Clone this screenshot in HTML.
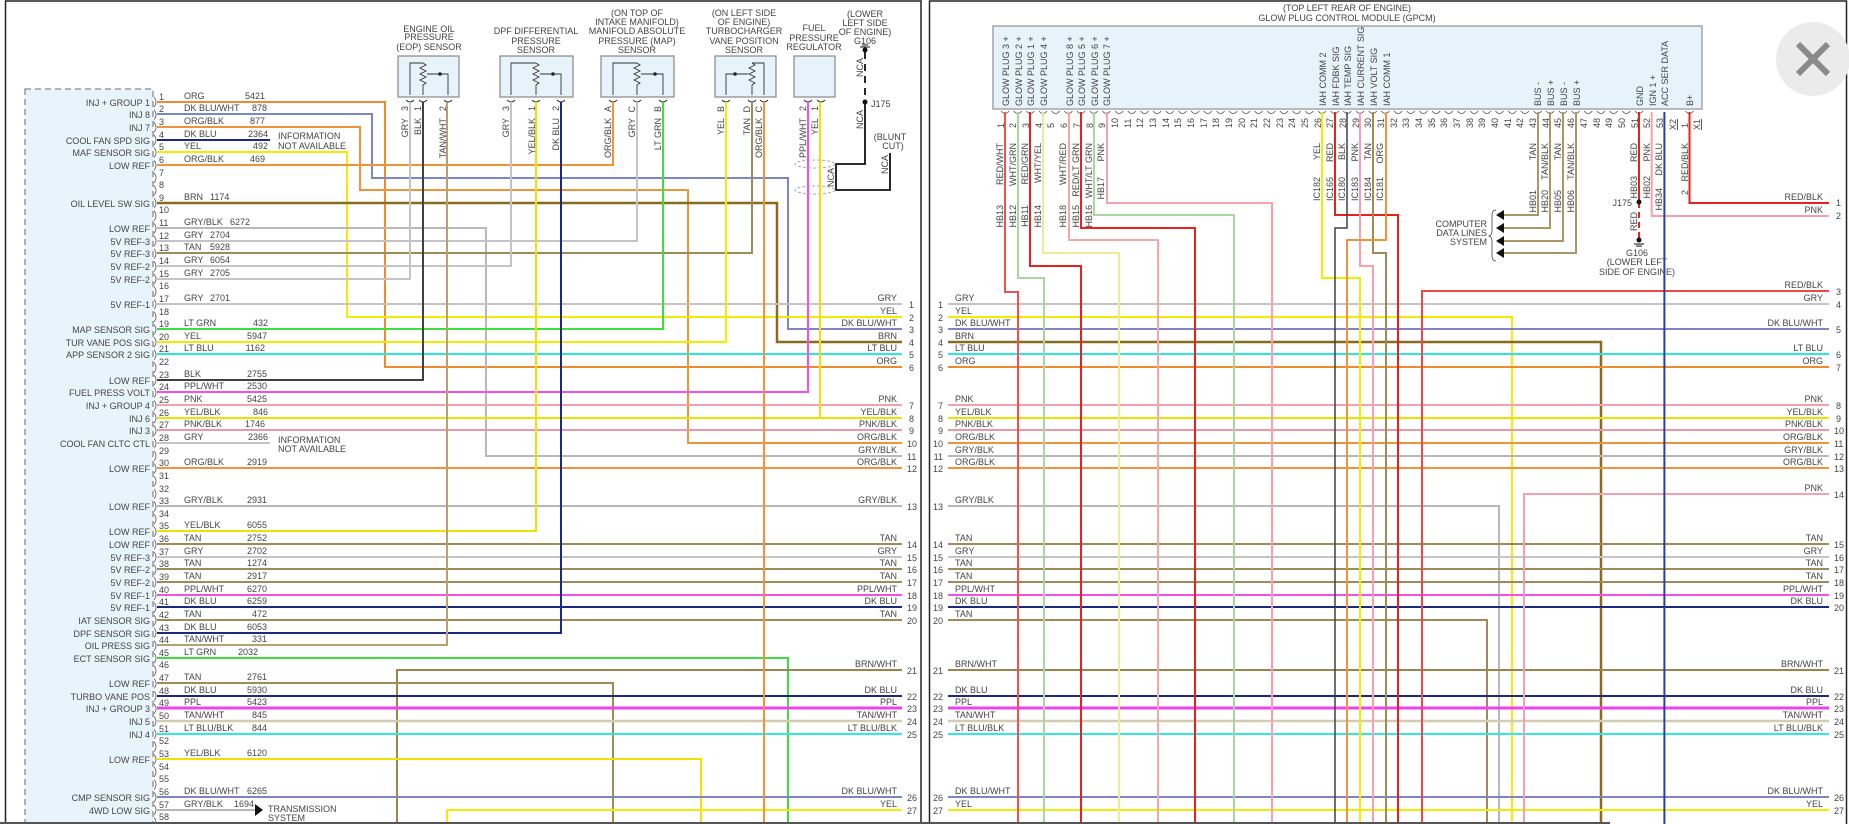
<!DOCTYPE html>
<html><head><meta charset="utf-8">
<style>
html,body{margin:0;padding:0;background:#fff;}
svg{display:block;}
text{font-family:"Liberation Sans",Arial,sans-serif;font-size:9px;fill:#444;}
.t{font-size:9.5px;}
.e{text-anchor:end;}
.m{text-anchor:middle;}
.w{fill:none;stroke-width:2;}
</style></head><body>
<svg width="1849" height="824" viewBox="0 0 1849 824" xmlns="http://www.w3.org/2000/svg">
<rect x="0" y="0" width="1849" height="824" fill="#fff"/>
<!-- panel borders -->
<rect x="5.5" y="1" width="915.5" height="830" fill="none" stroke="#222" stroke-width="1.5"/>
<rect x="929.5" y="1" width="917" height="830" fill="none" stroke="#222" stroke-width="1.5"/>
<!-- close icon -->
<circle cx="1813" cy="59" r="37" fill="#ebebeb"/>
<path d="M1798,44 L1828,74 M1828,44 L1798,74" stroke="#8a8a8a" stroke-width="6"/>

<!-- ECM dashed box -->
<rect x="25" y="89" width="128" height="745" fill="#e8f4fc" stroke="#888" stroke-width="1.3" stroke-dasharray="6,4"/>
<path d="M154,97 q4,5 0,10m0,2.64 q4,5 0,10m0,2.64 q4,5 0,10m0,2.64 q4,5 0,10m0,2.64 q4,5 0,10m0,2.64 q4,5 0,10m0,2.64 q4,5 0,10m0,2.64 q4,5 0,10m0,2.64 q4,5 0,10m0,2.64 q4,5 0,10m0,2.64 q4,5 0,10m0,2.64 q4,5 0,10m0,2.64 q4,5 0,10m0,2.64 q4,5 0,10m0,2.64 q4,5 0,10m0,2.64 q4,5 0,10m0,2.64 q4,5 0,10m0,2.64 q4,5 0,10m0,2.64 q4,5 0,10m0,2.64 q4,5 0,10m0,2.64 q4,5 0,10m0,2.64 q4,5 0,10m0,2.64 q4,5 0,10m0,2.64 q4,5 0,10m0,2.64 q4,5 0,10m0,2.64 q4,5 0,10m0,2.64 q4,5 0,10m0,2.64 q4,5 0,10m0,2.64 q4,5 0,10m0,2.64 q4,5 0,10m0,2.64 q4,5 0,10m0,2.64 q4,5 0,10m0,2.64 q4,5 0,10m0,2.64 q4,5 0,10m0,2.64 q4,5 0,10m0,2.64 q4,5 0,10m0,2.64 q4,5 0,10m0,2.64 q4,5 0,10m0,2.64 q4,5 0,10m0,2.64 q4,5 0,10m0,2.64 q4,5 0,10m0,2.64 q4,5 0,10m0,2.64 q4,5 0,10m0,2.64 q4,5 0,10m0,2.64 q4,5 0,10m0,2.64 q4,5 0,10m0,2.64 q4,5 0,10m0,2.64 q4,5 0,10m0,2.64 q4,5 0,10m0,2.64 q4,5 0,10m0,2.64 q4,5 0,10m0,2.64 q4,5 0,10m0,2.64 q4,5 0,10m0,2.64 q4,5 0,10m0,2.64 q4,5 0,10m0,2.64 q4,5 0,10m0,2.64 q4,5 0,10m0,2.64 q4,5 0,10" fill="none" stroke="#555" stroke-width="0.8"/>

<!-- sensor boxes -->
<g fill="#e6f3fb" stroke="#888" stroke-width="1.2">
<rect x="398" y="56" width="61" height="41"/>
<rect x="500" y="56" width="73" height="41"/>
<rect x="601" y="56" width="73" height="41"/>
<rect x="715" y="56" width="61" height="41"/>
<rect x="794" y="56" width="41" height="41"/>
</g>
<g fill="none" stroke="#333" stroke-width="0.9">
<path d="M410,95V63H423M423,63l3,2-6,3 6,3-6,3 6,3-6,3 6,3-3,2V95M448,95V74H427"/>
<path d="M511,95V63H536M536,63l3,2-6,3 6,3-6,3 6,3-6,3 6,3-3,2V95M561,95V74H540"/>
<path d="M613,95V63H637M637,63l3,2-6,3 6,3-6,3 6,3-6,3 6,3-3,2V95M663,95V74H641"/>
<path d="M764,95V63H752M752,63l3,2-6,3 6,3-6,3 6,3-6,3 6,3-3,2V95M726,95V74H748"/>
<path d="M406,156" />
<path d="M406,100q4,4 8,0M419,100q4,4 8,0M444,100q4,4 8,0M507,100q4,4 8,0M532,100q4,4 8,0M557,100q4,4 8,0M609,100q4,4 8,0M633,100q4,4 8,0M659,100q4,4 8,0M722,100q4,4 8,0M748,100q4,4 8,0M760,100q4,4 8,0M804,100q4,4 8,0M817,100q4,4 8,0"/>
</g>
<g fill="#222"><circle cx="440" cy="74" r="1.8"/><circle cx="553" cy="74" r="1.8"/><circle cx="655" cy="74" r="1.8"/><circle cx="735" cy="74" r="1.8"/></g>

<!-- sensor titles -->
<g class="m">
<text x="429" y="32">ENGINE OIL</text><text x="429" y="40">PRESSURE</text><text x="429" y="50">(EOP) SENSOR</text>
<text x="536" y="34">DPF DIFFERENTIAL</text><text x="536" y="44">PRESSURE</text><text x="536" y="53">SENSOR</text>
<text x="637" y="16">(ON TOP OF</text><text x="637" y="25">INTAKE MANIFOLD)</text><text x="637" y="34">MANIFOLD ABSOLUTE</text><text x="637" y="44">PRESSURE (MAP)</text><text x="637" y="53">SENSOR</text>
<text x="744" y="16">(ON LEFT SIDE</text><text x="744" y="25">OF ENGINE)</text><text x="744" y="34">TURBOCHARGER</text><text x="744" y="44">VANE POSITION</text><text x="744" y="53">SENSOR</text>
<text x="814" y="31">FUEL</text><text x="814" y="41">PRESSURE</text><text x="814" y="50">REGULATOR</text>
<text x="865" y="17">(LOWER</text><text x="865" y="26">LEFT SIDE</text><text x="865" y="35">OF ENGINE)</text><text x="865" y="44">G106</text>
<text x="890" y="140">(BLUNT</text><text x="893" y="149">CUT)</text>
</g>
<!-- sensor pin labels (rotated) -->
<g class="e">
<text transform="translate(408,106) rotate(-90)">3</text><text transform="translate(408,118) rotate(-90)">GRY</text>
<text transform="translate(421,106) rotate(-90)">1</text><text transform="translate(421,118) rotate(-90)">BLK</text>
<text transform="translate(446,106) rotate(-90)">2</text><text transform="translate(446,118) rotate(-90)">TAN/WHT</text>
<text transform="translate(509,106) rotate(-90)">3</text><text transform="translate(509,118) rotate(-90)">GRY</text>
<text transform="translate(535,106) rotate(-90)">1</text><text transform="translate(535,118) rotate(-90)">YEL/BLK</text>
<text transform="translate(559,106) rotate(-90)">2</text><text transform="translate(559,118) rotate(-90)">DK BLU</text>
<text transform="translate(611,106) rotate(-90)">A</text><text transform="translate(611,118) rotate(-90)">ORG/BLK</text>
<text transform="translate(635,106) rotate(-90)">C</text><text transform="translate(635,118) rotate(-90)">GRY</text>
<text transform="translate(661,106) rotate(-90)">B</text><text transform="translate(661,118) rotate(-90)">LT GRN</text>
<text transform="translate(724,106) rotate(-90)">B</text><text transform="translate(724,118) rotate(-90)">YEL</text>
<text transform="translate(750,106) rotate(-90)">D</text><text transform="translate(750,118) rotate(-90)">TAN</text>
<text transform="translate(762,106) rotate(-90)">C</text><text transform="translate(762,118) rotate(-90)">ORG/BLK</text>
<text transform="translate(806,106) rotate(-90)">2</text><text transform="translate(806,118) rotate(-90)">PPL/WHT</text>
<text transform="translate(818,106) rotate(-90)">1</text><text transform="translate(818,118) rotate(-90)">YEL</text>
<text transform="translate(863,58) rotate(-90)">NCA</text>
<text transform="translate(863,110) rotate(-90)">NCA</text>
<text transform="translate(888,155) rotate(-90)">NCA</text>
<text transform="translate(834,168) rotate(-90)">NCA</text>
</g>
<text x="871" y="107">J175</text>

<!-- ground / splice -->
<path d="M865,52V102" stroke="#111" stroke-width="1.8" stroke-dasharray="7,5" fill="none"/>
<path d="M865,102V164H836V190H890V153" stroke="#111" stroke-width="1.8" fill="none"/>
<circle cx="865" cy="50" r="2.5" fill="#111"/><path d="M860,47h10M862,45h6" stroke="#111"/>
<circle cx="865" cy="102" r="2.5" fill="#111"/>
<g fill="none" stroke="#aaa" stroke-dasharray="3,2"><ellipse cx="815" cy="164" rx="20" ry="4"/><ellipse cx="815" cy="190" rx="20" ry="4"/></g>

<!-- LEFT WIRES -->
<g class="w">
<path stroke="#f08a2a" d="M157,102H385V367H902"/>
<path stroke="#7b86c2" d="M157,114H372V178H788V329H902"/>
<path stroke="#f0943a" d="M157,127H360V190H688V443H902"/>
<path stroke="#1a2a80" d="M157,140H270"/>
<path stroke="#f4ec00" d="M157,152H347V317H902"/>
<path stroke="#f0943a" d="M157,165H613V102"/>
<path stroke="#8a6a1c" stroke-width="2.5" d="M157,203H777V342H902"/>
<path stroke="#b8b8b8" d="M157,228H486V456H902"/>
<path stroke="#c4c4c4" d="M157,241H637V102"/>
<path stroke="#a08a58" d="M157,253H752V102"/>
<path stroke="#c4c4c4" d="M157,266H511V102"/>
<path stroke="#c4c4c4" d="M157,279H410V102"/>
<path stroke="#c4c4c4" d="M157,304H902"/>
<path stroke="#3ce03c" d="M157,329H663V102"/>
<path stroke="#f4ec00" d="M157,342H726V102"/>
<path stroke="#2ae6e6" d="M157,354H902"/>
<path stroke="#404040" d="M157,380H423V102"/>
<path stroke="#f050f0" d="M157,392H808V102"/>
<path stroke="#f4a0b0" d="M157,405H902"/>
<path stroke="#ece400" d="M157,418H902M820,102V418"/>
<path stroke="#e898a8" d="M157,430H902"/>
<path stroke="#c4c4c4" d="M157,443H270"/>
<path stroke="#f0943a" d="M157,468H902"/>
<path stroke="#b8b8b8" d="M157,506H902"/>
<path stroke="#ece400" d="M157,531H536V102"/>
<path stroke="#a08a58" d="M157,544H902"/>
<path stroke="#c4c4c4" d="M157,557H902"/>
<path stroke="#a08a58" d="M157,569H902M157,582H902"/>
<path stroke="#f050f0" d="M157,595H902"/>
<path stroke="#1a2a80" d="M157,607H902"/>
<path stroke="#a08a58" d="M157,620H902"/>
<path stroke="#1a2a80" d="M157,633H561V102"/>
<path stroke="#b8a070" d="M157,645H447V102"/>
<path stroke="#3ce03c" d="M157,658H788V824"/>
<path stroke="#9c8450" d="M902,670H397V824"/>
<path stroke="#a08a58" d="M157,683H613V824"/>
<path stroke="#1a2a80" d="M157,696H902"/>
<path stroke="#f040f0" stroke-width="3" d="M157,708H902"/>
<path stroke="#d4ccb0" stroke-width="2.5" d="M157,721H902"/>
<path stroke="#30e8e8" d="M157,734H902"/>
<path stroke="#ece400" d="M157,759H701V824"/>
<path stroke="#7b86c2" d="M157,797H902"/>
<path stroke="#b8b8b8" d="M157,810H255"/>
<path stroke="#f4ec00" d="M902,810H447V824"/>
<path stroke="#f0943a" d="M764,102V824"/>
</g>
<path d="M255,804l8,6-8,6z" fill="#111"/>
<text x="268" y="812">TRANSMISSION</text><text x="268" y="821">SYSTEM</text>
<text x="278" y="139">INFORMATION</text><text x="278" y="149">NOT AVAILABLE</text>
<text x="278" y="443">INFORMATION</text><text x="278" y="452">NOT AVAILABLE</text>

<!-- left pin numbers -->
<g>
<text x="159" y="100">1</text><text x="159" y="112">2</text><text x="159" y="125">3</text><text x="159" y="138">4</text><text x="159" y="150">5</text><text x="159" y="163">6</text><text x="159" y="176">7</text><text x="159" y="188">8</text><text x="159" y="201">9</text><text x="159" y="213">10</text><text x="159" y="226">11</text><text x="159" y="239">12</text><text x="159" y="251">13</text><text x="159" y="264">14</text><text x="159" y="277">15</text><text x="159" y="289">16</text><text x="159" y="302">17</text><text x="159" y="315">18</text><text x="159" y="327">19</text><text x="159" y="340">20</text><text x="159" y="352">21</text><text x="159" y="365">22</text><text x="159" y="378">23</text><text x="159" y="390">24</text><text x="159" y="403">25</text><text x="159" y="416">26</text><text x="159" y="428">27</text><text x="159" y="441">28</text><text x="159" y="454">29</text><text x="159" y="466">30</text><text x="159" y="479">31</text><text x="159" y="492">32</text><text x="159" y="504">33</text><text x="159" y="517">34</text><text x="159" y="529">35</text><text x="159" y="542">36</text><text x="159" y="555">37</text><text x="159" y="567">38</text><text x="159" y="580">39</text><text x="159" y="593">40</text><text x="159" y="605">41</text><text x="159" y="618">42</text><text x="159" y="631">43</text><text x="159" y="643">44</text><text x="159" y="656">45</text><text x="159" y="668">46</text><text x="159" y="681">47</text><text x="159" y="694">48</text><text x="159" y="706">49</text><text x="159" y="719">50</text><text x="159" y="732">51</text><text x="159" y="744">52</text><text x="159" y="757">53</text><text x="159" y="770">54</text><text x="159" y="782">55</text><text x="159" y="795">56</text><text x="159" y="808">57</text><text x="159" y="820">58</text>
</g>
<!-- left function labels -->
<g class="e">
<text x="150" y="106">INJ + GROUP 1</text><text x="150" y="118">INJ 8</text><text x="150" y="131">INJ 7</text><text x="150" y="144">COOL FAN SPD SIG</text><text x="150" y="156">MAF SENSOR SIG</text><text x="150" y="169">LOW REF</text><text x="150" y="207">OIL LEVEL SW SIG</text><text x="150" y="232">LOW REF</text><text x="150" y="245">5V REF-3</text><text x="150" y="257">5V REF-3</text><text x="150" y="270">5V REF-2</text><text x="150" y="283">5V REF-2</text><text x="150" y="308">5V REF-1</text><text x="150" y="333">MAP SENSOR SIG</text><text x="150" y="346">TUR VANE POS SIG</text><text x="150" y="358">APP SENSOR 2 SIG</text><text x="150" y="384">LOW REF</text><text x="150" y="396">FUEL PRESS VOLT</text><text x="150" y="409">INJ + GROUP 4</text><text x="150" y="422">INJ 6</text><text x="150" y="434">INJ 3</text><text x="150" y="447">COOL FAN CLTC CTL</text><text x="150" y="472">LOW REF</text><text x="150" y="510">LOW REF</text><text x="150" y="535">LOW REF</text><text x="150" y="548">LOW REF</text><text x="150" y="561">5V REF-3</text><text x="150" y="573">5V REF-2</text><text x="150" y="586">5V REF-2</text><text x="150" y="599">5V REF-1</text><text x="150" y="611">5V REF-1</text><text x="150" y="624">IAT SENSOR SIG</text><text x="150" y="637">DPF SENSOR SIG</text><text x="150" y="649">OIL PRESS SIG</text><text x="150" y="662">ECT SENSOR SIG</text><text x="150" y="687">LOW REF</text><text x="150" y="700">TURBO VANE POS</text><text x="150" y="712">INJ + GROUP 3</text><text x="150" y="725">INJ 5</text><text x="150" y="738">INJ 4</text><text x="150" y="763">LOW REF</text><text x="150" y="801">CMP SENSOR SIG</text><text x="150" y="814">4WD LOW SIG</text>
</g>
<!-- left wire color labels -->
<g>
<text x="184" y="99">ORG</text><text x="184" y="111">DK BLU/WHT</text><text x="184" y="124">ORG/BLK</text><text x="184" y="137">DK BLU</text><text x="184" y="149">YEL</text><text x="184" y="162">ORG/BLK</text><text x="184" y="200">BRN</text><text x="184" y="225">GRY/BLK</text><text x="184" y="238">GRY</text><text x="184" y="250">TAN</text><text x="184" y="263">GRY</text><text x="184" y="276">GRY</text><text x="184" y="301">GRY</text><text x="184" y="326">LT GRN</text><text x="184" y="339">YEL</text><text x="184" y="351">LT BLU</text><text x="184" y="377">BLK</text><text x="184" y="389">PPL/WHT</text><text x="184" y="402">PNK</text><text x="184" y="415">YEL/BLK</text><text x="184" y="427">PNK/BLK</text><text x="184" y="440">GRY</text><text x="184" y="465">ORG/BLK</text><text x="184" y="503">GRY/BLK</text><text x="184" y="528">YEL/BLK</text><text x="184" y="541">TAN</text><text x="184" y="554">GRY</text><text x="184" y="566">TAN</text><text x="184" y="579">TAN</text><text x="184" y="592">PPL/WHT</text><text x="184" y="604">DK BLU</text><text x="184" y="617">TAN</text><text x="184" y="630">DK BLU</text><text x="184" y="642">TAN/WHT</text><text x="184" y="655">LT GRN</text><text x="184" y="680">TAN</text><text x="184" y="693">DK BLU</text><text x="184" y="705">PPL</text><text x="184" y="718">TAN/WHT</text><text x="184" y="731">LT BLU/BLK</text><text x="184" y="756">YEL/BLK</text><text x="184" y="794">DK BLU/WHT</text><text x="184" y="807">GRY/BLK</text>
<text x="210" y="200">1174</text><text x="230" y="225">6272</text><text x="210" y="238">2704</text><text x="210" y="250">5928</text><text x="210" y="263">6054</text><text x="210" y="276">2705</text><text x="210" y="301">2701</text><text x="238" y="655">2032</text><text x="234" y="807">1694</text>
</g>
<g class="e">
<text x="265" y="99">5421</text><text x="267" y="111">878</text><text x="265" y="124">877</text><text x="268" y="137">2364</text><text x="268" y="149">492</text><text x="265" y="162">469</text><text x="268" y="326">432</text><text x="267" y="339">5947</text><text x="265" y="351">1162</text><text x="267" y="377">2755</text><text x="267" y="389">2530</text><text x="267" y="402">5425</text><text x="268" y="415">846</text><text x="265" y="427">1746</text><text x="268" y="440">2366</text><text x="267" y="465">2919</text><text x="267" y="503">2931</text><text x="267" y="528">6055</text><text x="267" y="541">2752</text><text x="267" y="554">2702</text><text x="267" y="566">1274</text><text x="267" y="579">2917</text><text x="267" y="592">6270</text><text x="267" y="604">6259</text><text x="267" y="617">472</text><text x="267" y="630">6053</text><text x="267" y="642">331</text><text x="267" y="680">2761</text><text x="267" y="693">5930</text><text x="267" y="705">5423</text><text x="267" y="718">845</text><text x="267" y="731">844</text><text x="267" y="756">6120</text><text x="267" y="794">6265</text>
</g>
<!-- left connector labels -->
<g class="e">
<text x="897" y="301">GRY</text><text x="897" y="314">YEL</text><text x="897" y="326">DK BLU/WHT</text><text x="897" y="339">BRN</text><text x="897" y="351">LT BLU</text><text x="897" y="364">ORG</text><text x="897" y="402">PNK</text><text x="897" y="415">YEL/BLK</text><text x="897" y="427">PNK/BLK</text><text x="897" y="440">ORG/BLK</text><text x="897" y="453">GRY/BLK</text><text x="897" y="465">ORG/BLK</text><text x="897" y="503">GRY/BLK</text><text x="897" y="541">TAN</text><text x="897" y="554">GRY</text><text x="897" y="566">TAN</text><text x="897" y="579">TAN</text><text x="897" y="592">PPL/WHT</text><text x="897" y="604">DK BLU</text><text x="897" y="617">TAN</text><text x="897" y="667">BRN/WHT</text><text x="897" y="693">DK BLU</text><text x="897" y="705">PPL</text><text x="897" y="718">TAN/WHT</text><text x="897" y="731">LT BLU/BLK</text><text x="897" y="794">DK BLU/WHT</text><text x="897" y="807">YEL</text>
</g>
<g>
<text x="909" y="308">1</text><text x="909" y="321">2</text><text x="909" y="333">3</text><text x="909" y="346">4</text><text x="909" y="358">5</text><text x="909" y="371">6</text><text x="909" y="409">7</text><text x="909" y="422">8</text><text x="909" y="434">9</text><text x="907" y="447">10</text><text x="907" y="460">11</text><text x="907" y="472">12</text><text x="907" y="510">13</text><text x="907" y="548">14</text><text x="907" y="561">15</text><text x="907" y="573">16</text><text x="907" y="586">17</text><text x="907" y="599">18</text><text x="907" y="611">19</text><text x="907" y="624">20</text><text x="907" y="674">21</text><text x="907" y="700">22</text><text x="907" y="712">23</text><text x="907" y="725">24</text><text x="907" y="738">25</text><text x="907" y="801">26</text><text x="907" y="814">27</text>
</g>

<!-- RIGHT PANEL -->
<g class="m"><text x="1347" y="11">(TOP LEFT REAR OF ENGINE)</text><text x="1347" y="21">GLOW PLUG CONTROL MODULE (GPCM)</text></g>
<rect x="993" y="26" width="709" height="83" fill="#e6f3fb" stroke="#999" stroke-width="1.3"/>
<path d="M1001,111q4,5 8,0m4.68,0q4,5 8,0m4.68,0q4,5 8,0m4.68,0q4,5 8,0m4.68,0q4,5 8,0m4.68,0q4,5 8,0m4.68,0q4,5 8,0m4.68,0q4,5 8,0m4.68,0q4,5 8,0m4.68,0q4,5 8,0m4.68,0q4,5 8,0m4.68,0q4,5 8,0m4.68,0q4,5 8,0m4.68,0q4,5 8,0m4.68,0q4,5 8,0m4.68,0q4,5 8,0m4.68,0q4,5 8,0m4.68,0q4,5 8,0m4.68,0q4,5 8,0m4.68,0q4,5 8,0m4.68,0q4,5 8,0m4.68,0q4,5 8,0m4.68,0q4,5 8,0m4.68,0q4,5 8,0m4.68,0q4,5 8,0m4.68,0q4,5 8,0m4.68,0q4,5 8,0m4.68,0q4,5 8,0m4.68,0q4,5 8,0m4.68,0q4,5 8,0m4.68,0q4,5 8,0m4.68,0q4,5 8,0m4.68,0q4,5 8,0m4.68,0q4,5 8,0m4.68,0q4,5 8,0m4.68,0q4,5 8,0m4.68,0q4,5 8,0m4.68,0q4,5 8,0m4.68,0q4,5 8,0m4.68,0q4,5 8,0m4.68,0q4,5 8,0m4.68,0q4,5 8,0m4.68,0q4,5 8,0m4.68,0q4,5 8,0m4.68,0q4,5 8,0m4.68,0q4,5 8,0m4.68,0q4,5 8,0m4.68,0q4,5 8,0m4.68,0q4,5 8,0m4.68,0q4,5 8,0m4.68,0q4,5 8,0M1685.5,111q4,5 8,0" fill="none" stroke="#555" stroke-width="0.8"/>
<!-- GPCM pin labels inside -->
<g>
<text transform="translate(1009,106) rotate(-90)">GLOW PLUG 3 +</text>
<text transform="translate(1022,106) rotate(-90)">GLOW PLUG 2 +</text>
<text transform="translate(1034,106) rotate(-90)">GLOW PLUG 1 +</text>
<text transform="translate(1047,106) rotate(-90)">GLOW PLUG 4 +</text>
<text transform="translate(1073,106) rotate(-90)">GLOW PLUG 8 +</text>
<text transform="translate(1085,106) rotate(-90)">GLOW PLUG 5 +</text>
<text transform="translate(1098,106) rotate(-90)">GLOW PLUG 6 +</text>
<text transform="translate(1110,106) rotate(-90)">GLOW PLUG 7 +</text>
<text transform="translate(1326,106) rotate(-90)">IAH COMM 2</text>
<text transform="translate(1339,106) rotate(-90)">IAH FDBK SIG</text>
<text transform="translate(1351,106) rotate(-90)">IAH TEMP SIG</text>
<text transform="translate(1364,106) rotate(-90)">IAH CURRENT SIG</text>
<text transform="translate(1377,106) rotate(-90)">IAH VOLT SIG</text>
<text transform="translate(1390,106) rotate(-90)">IAH COMM 1</text>
<text transform="translate(1541,106) rotate(-90)">BUS -</text>
<text transform="translate(1554,106) rotate(-90)">BUS +</text>
<text transform="translate(1567,106) rotate(-90)">BUS -</text>
<text transform="translate(1580,106) rotate(-90)">BUS +</text>
<text transform="translate(1643,106) rotate(-90)">GND</text>
<text transform="translate(1656,106) rotate(-90)">IGN 1 +</text>
<text transform="translate(1668,106) rotate(-90)">ACC SER DATA</text>
<text transform="translate(1693,106) rotate(-90)">B+</text>
</g>
<!-- GPCM pin numbers -->
<g>
<text transform="translate(1004,128) rotate(-90)">1</text><text transform="translate(1016,128) rotate(-90)">2</text><text transform="translate(1029,128) rotate(-90)">3</text><text transform="translate(1042,128) rotate(-90)">4</text><text transform="translate(1054,128) rotate(-90)">5</text><text transform="translate(1067,128) rotate(-90)">6</text><text transform="translate(1080,128) rotate(-90)">7</text><text transform="translate(1093,128) rotate(-90)">8</text><text transform="translate(1105,128) rotate(-90)">9</text><text transform="translate(1118,128) rotate(-90)">10</text><text transform="translate(1131,128) rotate(-90)">11</text><text transform="translate(1143,128) rotate(-90)">12</text><text transform="translate(1156,128) rotate(-90)">13</text><text transform="translate(1169,128) rotate(-90)">14</text><text transform="translate(1181,128) rotate(-90)">15</text><text transform="translate(1194,128) rotate(-90)">16</text><text transform="translate(1207,128) rotate(-90)">17</text><text transform="translate(1219,128) rotate(-90)">18</text><text transform="translate(1232,128) rotate(-90)">19</text><text transform="translate(1245,128) rotate(-90)">20</text><text transform="translate(1257,128) rotate(-90)">21</text><text transform="translate(1270,128) rotate(-90)">22</text><text transform="translate(1283,128) rotate(-90)">23</text><text transform="translate(1295,128) rotate(-90)">24</text><text transform="translate(1308,128) rotate(-90)">25</text><text transform="translate(1321,128) rotate(-90)">26</text><text transform="translate(1333,128) rotate(-90)">27</text><text transform="translate(1346,128) rotate(-90)">28</text><text transform="translate(1359,128) rotate(-90)">29</text><text transform="translate(1371,128) rotate(-90)">30</text><text transform="translate(1384,128) rotate(-90)">31</text><text transform="translate(1397,128) rotate(-90)">32</text><text transform="translate(1409,128) rotate(-90)">33</text><text transform="translate(1422,128) rotate(-90)">34</text><text transform="translate(1435,128) rotate(-90)">35</text><text transform="translate(1447,128) rotate(-90)">36</text><text transform="translate(1460,128) rotate(-90)">37</text><text transform="translate(1473,128) rotate(-90)">38</text><text transform="translate(1485,128) rotate(-90)">39</text><text transform="translate(1498,128) rotate(-90)">40</text><text transform="translate(1511,128) rotate(-90)">41</text><text transform="translate(1523,128) rotate(-90)">42</text><text transform="translate(1536,128) rotate(-90)">43</text><text transform="translate(1549,128) rotate(-90)">44</text><text transform="translate(1561,128) rotate(-90)">45</text><text transform="translate(1574,128) rotate(-90)">46</text><text transform="translate(1587,128) rotate(-90)">47</text><text transform="translate(1600,128) rotate(-90)">48</text><text transform="translate(1612,128) rotate(-90)">49</text><text transform="translate(1625,128) rotate(-90)">50</text><text transform="translate(1638,128) rotate(-90)">51</text><text transform="translate(1650,128) rotate(-90)">52</text><text transform="translate(1663,128) rotate(-90)">53</text><text transform="translate(1676,130) rotate(-90)" text-decoration="underline">X2</text><text transform="translate(1688,128) rotate(-90)">1</text><text transform="translate(1700,130) rotate(-90)" text-decoration="underline">X1</text>
</g>
<!-- GPCM wire labels -->
<g class="e">
<text transform="translate(1003,143) rotate(-90)">RED/WHT</text><text transform="translate(1003,205) rotate(-90)">HB13</text>
<text transform="translate(1016,143) rotate(-90)">WHT/GRN</text><text transform="translate(1016,205) rotate(-90)">HB12</text>
<text transform="translate(1028,143) rotate(-90)">RED/GRN</text><text transform="translate(1028,205) rotate(-90)">HB11</text>
<text transform="translate(1041,143) rotate(-90)">WHT/YEL</text><text transform="translate(1041,205) rotate(-90)">HB14</text>
<text transform="translate(1066,143) rotate(-90)">WHT/RED</text><text transform="translate(1066,205) rotate(-90)">HB18</text>
<text transform="translate(1079,143) rotate(-90)">RED/LT GRN</text><text transform="translate(1079,205) rotate(-90)">HB15</text>
<text transform="translate(1092,143) rotate(-90)">WHT/LT GRN</text><text transform="translate(1092,205) rotate(-90)">HB16</text>
<text transform="translate(1104,143) rotate(-90)">PNK</text><text transform="translate(1104,177) rotate(-90)">HB17</text>
<text transform="translate(1320,143) rotate(-90)">YEL</text><text transform="translate(1320,177) rotate(-90)">IC182</text>
<text transform="translate(1333,143) rotate(-90)">RED</text><text transform="translate(1333,177) rotate(-90)">IC165</text>
<text transform="translate(1345,143) rotate(-90)">BLK</text><text transform="translate(1345,177) rotate(-90)">IC180</text>
<text transform="translate(1358,143) rotate(-90)">PNK</text><text transform="translate(1358,177) rotate(-90)">IC183</text>
<text transform="translate(1371,143) rotate(-90)">TAN</text><text transform="translate(1371,177) rotate(-90)">IC184</text>
<text transform="translate(1383,143) rotate(-90)">ORG</text><text transform="translate(1383,177) rotate(-90)">IC181</text>
<text transform="translate(1536,143) rotate(-90)">TAN</text><text transform="translate(1536,190) rotate(-90)">HB01</text>
<text transform="translate(1548,143) rotate(-90)">TAN/BLK</text><text transform="translate(1548,190) rotate(-90)">HB20</text>
<text transform="translate(1561,143) rotate(-90)">TAN</text><text transform="translate(1561,190) rotate(-90)">HB05</text>
<text transform="translate(1574,143) rotate(-90)">TAN/BLK</text><text transform="translate(1574,190) rotate(-90)">HB06</text>
<text transform="translate(1637,143) rotate(-90)">RED</text><text transform="translate(1637,176) rotate(-90)">HB03</text>
<text transform="translate(1650,143) rotate(-90)">PNK</text><text transform="translate(1650,176) rotate(-90)">HB02</text>
<text transform="translate(1662,143) rotate(-90)">DK BLU</text><text transform="translate(1662,188) rotate(-90)">HB34</text>
<text transform="translate(1688,143) rotate(-90)">RED/BLK</text><text transform="translate(1688,190) rotate(-90)">2</text>
<text transform="translate(1637,212) rotate(-90)">RED</text>
</g>
<text class="e" x="1632" y="206">J175</text>
<g class="m"><text x="1637" y="256">G106</text><text x="1637" y="265">(LOWER LEFT</text><text x="1637" y="275">SIDE OF ENGINE)</text></g>
<g class="e"><text x="1487" y="227">COMPUTER</text><text x="1487" y="236">DATA LINES</text><text x="1487" y="245">SYSTEM</text></g>
<path d="M1496,210q-4,0 -4,6v15q0,4 -3,5q3,1 3,5v15q0,5 4,5" fill="none" stroke="#444" stroke-width="0.8"/>

<!-- right panel wires -->
<g class="w">
<path stroke="#c4c4c4" d="M948,304H1829"/>
<path stroke="#f4ec00" d="M948,317H1512V824"/>
<path stroke="#7b86c2" d="M948,329H1829"/>
<path stroke="#8a6a1c" stroke-width="2.5" d="M948,342H1601V824"/>
<path stroke="#2ae6e6" d="M948,354H1829"/>
<path stroke="#f08a2a" d="M948,367H1829"/>
<path stroke="#f4a0b0" d="M948,405H1829"/>
<path stroke="#ece400" d="M948,418H1829"/>
<path stroke="#e898a8" d="M948,430H1829"/>
<path stroke="#f0943a" d="M948,443H1829"/>
<path stroke="#b8b8b8" d="M948,456H1829"/>
<path stroke="#f0943a" d="M948,468H1829"/>
<path stroke="#b8b8b8" d="M948,506H1499V824"/>
<path stroke="#a08a58" d="M948,544H1829"/>
<path stroke="#c4c4c4" d="M948,557H1829"/>
<path stroke="#a08a58" d="M948,569H1829M948,582H1829"/>
<path stroke="#f050f0" d="M948,595H1829"/>
<path stroke="#1a2a80" d="M948,607H1829"/>
<path stroke="#a08a58" d="M948,620H1487V824"/>
<path stroke="#9c8450" d="M948,670H1829"/>
<path stroke="#1a2a80" d="M948,696H1829"/>
<path stroke="#f040f0" stroke-width="3" d="M948,708H1829"/>
<path stroke="#d4ccb0" stroke-width="2.5" d="M948,721H1829"/>
<path stroke="#30e8e8" d="M948,734H1829"/>
<path stroke="#7b86c2" d="M948,797H1829"/>
<path stroke="#f4ec00" d="M948,810H1829"/>
<path stroke="#f04848" d="M1422,824V291H1829"/>
<path stroke="#f4a0b0" d="M1524,824V494H1829"/>
<!-- GPCM pins -->
<path stroke="#f05050" d="M1005,112V292H1018V824"/>
<path stroke="#a8d8a0" d="M1018,112V278H1044V824"/>
<path stroke="#e82020" d="M1030,112V266H1081V824"/>
<path stroke="#ecec98" d="M1043,112V253H1119V824"/>
<path stroke="#f4a8a8" d="M1069,112V240H1158V824"/>
<path stroke="#e82020" d="M1081,112V228H1195V824"/>
<path stroke="#a8d8a0" d="M1094,112V215H1234V824"/>
<path stroke="#f8a0b0" d="M1107,112V203H1272V824"/>
<path stroke="#f4ec00" d="M1322,112V278H1360V824"/>
<path stroke="#e82020" d="M1335,112V215H1398V824"/>
<path stroke="#404040" stroke-width="1.5" d="M1347,112V228H1335V824"/>
<path stroke="#f8a0b0" d="M1360,112V266H1373V824"/>
<path stroke="#a08a58" d="M1373,112V253H1386V824"/>
<path stroke="#f0943a" d="M1386,112V240H1347V824"/>
<path stroke="#a89868" d="M1538,112V215H1502M1550,112V228H1502M1563,112V241H1502M1576,112V253H1502"/>
<path stroke="#e82020" d="M1639,112V202"/>
<path stroke="#e82020" stroke-dasharray="6,4" d="M1639,202V238"/>
<path stroke="#f4a0b0" d="M1651.7,112V216H1829"/>
<path stroke="#2840a0" d="M1664.4,112V824"/>
<path stroke="#e82020" d="M1689.5,112V203H1829"/>
</g>
<g fill="#111">
<path d="M1496,215l8,-5v10z M1496,228l8,-5v10z M1496,241l8,-5v10z M1496,253l8,-5v10z"/>
<circle cx="1639" cy="202" r="2.5"/><circle cx="1639" cy="240" r="2.5"/>
</g>
<path d="M1634,244h10M1636,246h6" stroke="#111"/>

<!-- right panel left labels -->
<g>
<text x="955" y="301">GRY</text><text x="955" y="314">YEL</text><text x="955" y="326">DK BLU/WHT</text><text x="955" y="339">BRN</text><text x="955" y="351">LT BLU</text><text x="955" y="364">ORG</text><text x="955" y="402">PNK</text><text x="955" y="415">YEL/BLK</text><text x="955" y="427">PNK/BLK</text><text x="955" y="440">ORG/BLK</text><text x="955" y="453">GRY/BLK</text><text x="955" y="465">ORG/BLK</text><text x="955" y="503">GRY/BLK</text><text x="955" y="541">TAN</text><text x="955" y="554">GRY</text><text x="955" y="566">TAN</text><text x="955" y="579">TAN</text><text x="955" y="592">PPL/WHT</text><text x="955" y="604">DK BLU</text><text x="955" y="617">TAN</text><text x="955" y="667">BRN/WHT</text><text x="955" y="693">DK BLU</text><text x="955" y="705">PPL</text><text x="955" y="718">TAN/WHT</text><text x="955" y="731">LT BLU/BLK</text><text x="955" y="794">DK BLU/WHT</text><text x="955" y="807">YEL</text>
</g>
<g class="e">
<text x="943" y="308">1</text><text x="943" y="321">2</text><text x="943" y="333">3</text><text x="943" y="346">4</text><text x="943" y="358">5</text><text x="943" y="371">6</text><text x="943" y="409">7</text><text x="943" y="422">8</text><text x="943" y="434">9</text><text x="943" y="447">10</text><text x="943" y="460">11</text><text x="943" y="472">12</text><text x="943" y="510">13</text><text x="943" y="548">14</text><text x="943" y="561">15</text><text x="943" y="573">16</text><text x="943" y="586">17</text><text x="943" y="599">18</text><text x="943" y="611">19</text><text x="943" y="624">20</text><text x="943" y="674">21</text><text x="943" y="700">22</text><text x="943" y="712">23</text><text x="943" y="725">24</text><text x="943" y="738">25</text><text x="943" y="801">26</text><text x="943" y="814">27</text>
</g>
<!-- right panel right labels -->
<g class="e">
<text x="1823" y="200">RED/BLK</text><text x="1823" y="213">PNK</text><text x="1823" y="288">RED/BLK</text><text x="1823" y="301">GRY</text><text x="1823" y="326">DK BLU/WHT</text><text x="1823" y="351">LT BLU</text><text x="1823" y="364">ORG</text><text x="1823" y="402">PNK</text><text x="1823" y="415">YEL/BLK</text><text x="1823" y="427">PNK/BLK</text><text x="1823" y="440">ORG/BLK</text><text x="1823" y="453">GRY/BLK</text><text x="1823" y="465">ORG/BLK</text><text x="1823" y="491">PNK</text><text x="1823" y="541">TAN</text><text x="1823" y="554">GRY</text><text x="1823" y="566">TAN</text><text x="1823" y="579">TAN</text><text x="1823" y="592">PPL/WHT</text><text x="1823" y="604">DK BLU</text><text x="1823" y="667">BRN/WHT</text><text x="1823" y="693">DK BLU</text><text x="1823" y="705">PPL</text><text x="1823" y="718">TAN/WHT</text><text x="1823" y="731">LT BLU/BLK</text><text x="1823" y="794">DK BLU/WHT</text><text x="1823" y="807">YEL</text>
</g>
<g>
<text x="1836" y="206">1</text><text x="1836" y="219">2</text><text x="1836" y="295">3</text><text x="1836" y="308">4</text><text x="1836" y="333">5</text><text x="1836" y="358">6</text><text x="1836" y="371">7</text><text x="1836" y="409">8</text><text x="1836" y="422">9</text><text x="1834" y="434">10</text><text x="1834" y="447">11</text><text x="1834" y="460">12</text><text x="1834" y="472">13</text><text x="1834" y="498">14</text><text x="1834" y="548">15</text><text x="1834" y="561">16</text><text x="1834" y="573">17</text><text x="1834" y="586">18</text><text x="1834" y="599">19</text><text x="1834" y="611">20</text><text x="1834" y="674">21</text><text x="1834" y="700">22</text><text x="1834" y="712">23</text><text x="1834" y="725">24</text><text x="1834" y="738">25</text><text x="1834" y="801">26</text><text x="1834" y="814">27</text>
</g>
<rect x="0" y="822" width="1610" height="2" fill="#555"/>
</svg>
</body></html>
